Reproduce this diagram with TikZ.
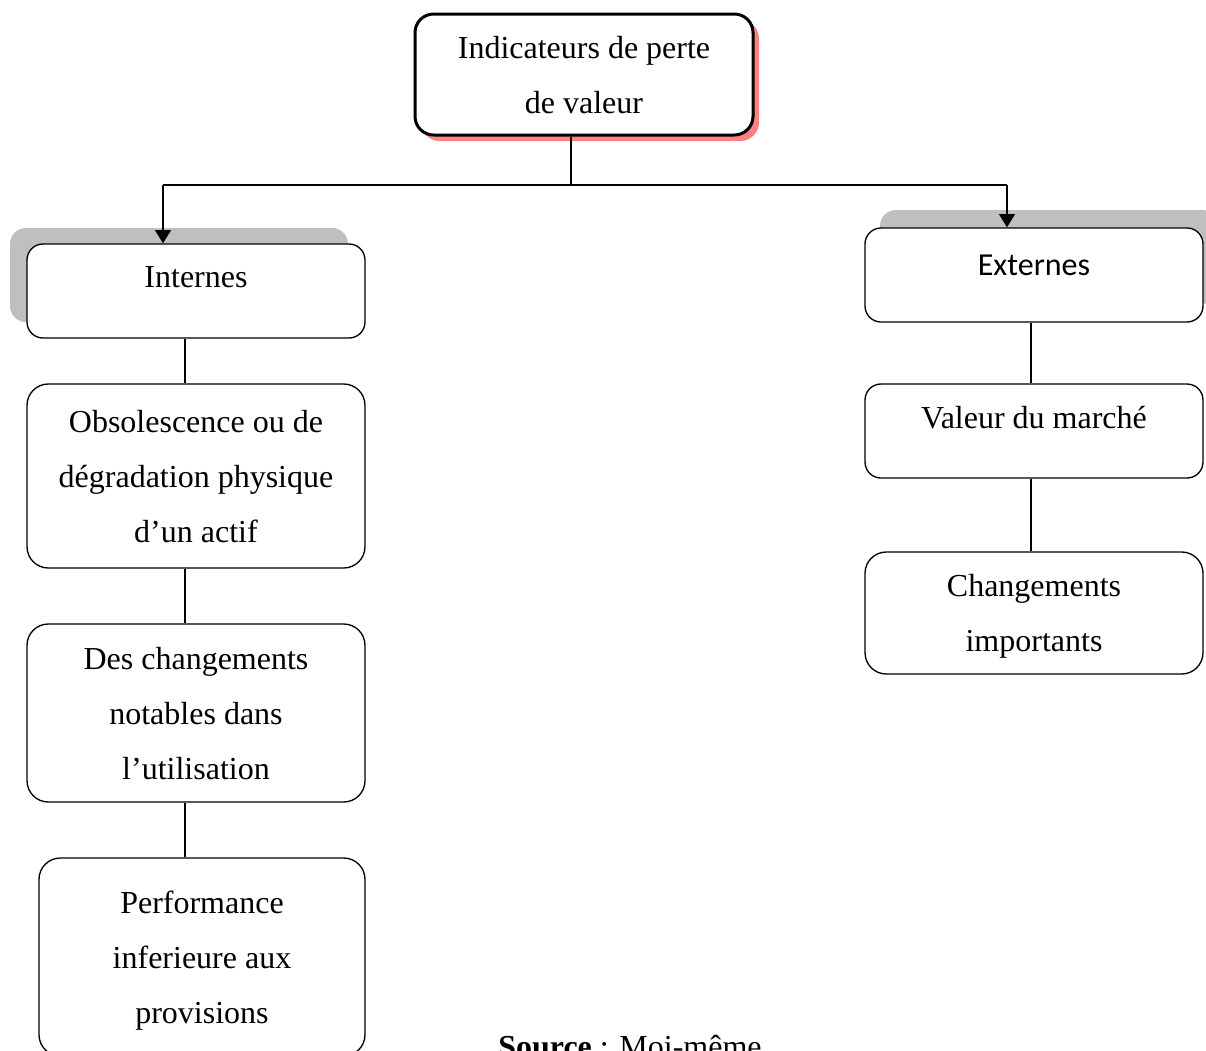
\documentclass[tikz,border=0pt]{standalone}
\usepackage{fontspec}
\setmainfont{Liberation Serif}
\newfontfamily\calibri{Carlito}
\usetikzlibrary{arrows.meta,shadows}

\begin{document}
\begin{tikzpicture}[x=0.75pt, y=-0.75pt,
	    box/.style={draw, rounded corners=16pt, line width=1pt, fill=white, align=center,
	        minimum width=253.5pt, font=\fontsize{24}{41.25}\selectfont, inner sep=0pt, text depth=0pt},
	    small/.style={minimum height=70.5pt, rounded corners=12pt},
	    link/.style={line width=1.1pt},
	    arr/.style={line width=1.1pt, -{Triangle[width=12pt,length=10pt]}}]
	    \useasboundingbox (0,0) rectangle (1206,1050);

	    % head of the tree
	    \node[box, line width=2.25pt, rounded corners=14pt, minimum height=90.75pt,
	        drop shadow={shadow xshift=4.5pt, shadow yshift=-4.5pt, fill=red!50, opacity=1}]
	        (top) at (584,74.5) {Indicateurs de perte\\de valeur};

	    % the two branches
	    \node[box, small, text depth=21pt,
	        drop shadow={shadow xshift=-12.75pt, shadow yshift=12pt, fill=black!25, opacity=1}]
	        (int) at (196,291) {Internes};
	    \node[box, small, text depth=15pt, font=\calibri\fontsize{24}{41.25}\selectfont,
	        drop shadow={shadow xshift=11.25pt, shadow yshift=13.5pt, fill=black!25, opacity=1}]
	        (ext) at (1034,275) {Externes};

	    % left column
	    \node[box, minimum height=138pt] (obs) at (196,476)
	        {Obsolescence ou de\\dégradation physique\\d’un actif};
	    \node[box, minimum height=133.5pt] (chg) at (196,713)
	        {Des changements\\notables dans\\l’utilisation};
	    \node[box, minimum width=244.5pt, minimum height=148.5pt] (perf) at (202,957)
	        {Performance\\inferieure aux\\provisions};

	    % right column
	    \node[box, small, text depth=21pt] (val) at (1034,431) {Valeur du marché};
	    \node[box, minimum height=91.5pt] (imp) at (1034,613) {Changements\\importants};

	    \node[anchor=base, font=\fontsize{24}{41.25}\selectfont] (src) at (630,1057)
	        {\textbf{Source} : Moi-même};

	    \coordinate (split) at (571,185);
	    \coordinate (lft) at (163,185);
	    \coordinate (rgt) at (1007,185);
	    \coordinate (lx) at (185,0);
	    \coordinate (rx) at (1031,0);

	    \draw[link] (top.south -| split) -- (split);
	    \draw[link] (lft) -- (rgt);
	    \draw[arr] (lft) -- (lft |- int.north);
	    \draw[arr] (rgt) -- (rgt |- ext.north);

	    \draw[link] (int.south -| lx) -- (obs.north -| lx);
	    \draw[link] (obs.south -| lx) -- (chg.north -| lx);
	    \draw[link] (chg.south -| lx) -- (perf.north -| lx);
	    \draw[link] (ext.south -| rx) -- (val.north -| rx);
	    \draw[link] (val.south -| rx) -- (imp.north -| rx);
	\end{tikzpicture}
\end{document}
